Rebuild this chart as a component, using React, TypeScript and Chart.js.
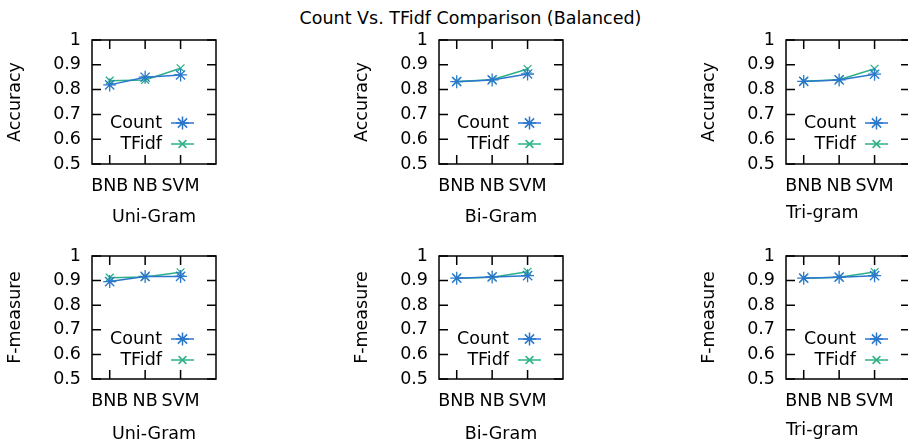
import React, { useEffect, useRef } from 'react';
import { Chart, registerables } from 'chart.js';
import { drawPoint } from 'chart.js/helpers';

Chart.register(...registerables);

// ---------- data ----------
const categories = ['BNB', 'NB', 'SVM'];
const seriesNames = ['Count', 'TFidf'];
const mainTitle = 'Count Vs. TFidf Comparison (Balanced)';

const uniAccCount = [0.819, 0.85, 0.859];
const uniAccTfidf = [0.836, 0.839, 0.886];
const biAccCount = [0.832, 0.839, 0.863];
const biAccTfidf = [0.833, 0.84, 0.883];
const triAccCount = [0.833, 0.839, 0.862];
const triAccTfidf = [0.834, 0.84, 0.884];

const uniF1Count = [0.896, 0.917, 0.917];
const uniF1Tfidf = [0.912, 0.915, 0.934];
const biF1Count = [0.91, 0.915, 0.92];
const biF1Tfidf = [0.91, 0.914, 0.936];
const triF1Count = [0.91, 0.914, 0.92];
const triF1Tfidf = [0.91, 0.914, 0.935];

const yLabels = ['Accuracy', 'F-measure'];
const xLabels = ['Uni-Gram', 'Bi-Gram', 'Tri-gram'];

// ---------- styles ----------
const FONT_FAMILY = "'DejaVu Sans', sans-serif";
const FONT_SIZE = 17.5;
const COLORS = ['#2b77cc', '#2bb088'];
const POINT_STYLES = ['star', 'crossRot'];
const POINT_RADII = [6.5, 5.5];

const COL_LEFT = [0, 347, 694];
const ROW_TOP = [0, 216];
const ROW_HEIGHT = [230, 232];
const BOX_TOP = [40, 40];
const BOX_BOTTOM = [164, 163];
const CANVAS_W = 226;
const BOX_LEFT = 92;
const BOX_RIGHT = 216;

const panels = [
  { row: 0, col: 0, count: uniAccCount, tfidf: uniAccTfidf },
  { row: 0, col: 1, count: biAccCount, tfidf: biAccTfidf },
  { row: 0, col: 2, count: triAccCount, tfidf: triAccTfidf },
  { row: 1, col: 0, count: uniF1Count, tfidf: uniF1Tfidf },
  { row: 1, col: 1, count: biF1Count, tfidf: biF1Tfidf },
  { row: 1, col: 2, count: triF1Count, tfidf: triF1Tfidf },
];

const framePlugin = {
  id: 'gnuFrame',
  beforeDatasetsDraw(chart: any) {
    const { ctx, chartArea } = chart;
    const { left, right, top, bottom } = chartArea;
    const x = chart.scales.x;
    const y = chart.scales.y;
    const tl = 9;
    ctx.save();
    ctx.strokeStyle = '#000';
    ctx.lineWidth = 1.5;
    ctx.strokeRect(left, top, right - left, bottom - top);
    ctx.beginPath();
    y.ticks.forEach((t: any) => {
      const py = y.getPixelForValue(t.value);
      ctx.moveTo(left, py);
      ctx.lineTo(left + tl, py);
      ctx.moveTo(right, py);
      ctx.lineTo(right - tl, py);
    });
    x.ticks.forEach((t: any) => {
      const px = x.getPixelForValue(t.value);
      ctx.moveTo(px, bottom);
      ctx.lineTo(px, bottom - tl);
      ctx.moveTo(px, top);
      ctx.lineTo(px, top + tl);
    });
    ctx.stroke();
    ctx.restore();
  },
};

const legendPlugin = {
  id: 'gnuLegend',
  afterDatasetsDraw(chart: any) {
    const { ctx, chartArea } = chart;
    const { right, top } = chartArea;
    ctx.save();
    chart.data.datasets.forEach((ds: any, i: number) => {
      const cy = top + 83 + i * 21;
      ctx.font = `${FONT_SIZE}px ${FONT_FAMILY}`;
      ctx.fillStyle = '#000';
      ctx.textAlign = 'right';
      ctx.textBaseline = 'middle';
      ctx.fillText(ds.label, right - 54, cy);
      ctx.strokeStyle = ds.borderColor;
      ctx.fillStyle = ds.borderColor;
      ctx.lineWidth = 1.5;
      ctx.beginPath();
      ctx.moveTo(right - 45, cy);
      ctx.lineTo(right - 22, cy);
      ctx.stroke();
      drawPoint(ctx, { pointStyle: ds.pointStyle, radius: ds.pointRadius, borderWidth: 1.3, rotation: 0 }, right - 33.5, cy);
    });
    ctx.restore();
  },
};

function Panel({ row, col, count, tfidf }: any) {
  const ref = useRef<HTMLCanvasElement | null>(null);
  useEffect(() => {
    if (!ref.current) return;
    const h = ROW_HEIGHT[row];
    const isTri = col === 2;
    const titlePadBottom = (row === 0 ? 2.4 : 3.4) + (isTri ? 4 : 0);
    const font = { family: FONT_FAMILY, size: FONT_SIZE };
    const values = [count, tfidf];
    const chart = new Chart(ref.current, {
      type: 'line',
      data: {
        datasets: seriesNames.map((name, i) => ({
          label: name,
          data: values[i].map((v: number, k: number) => ({ x: k, y: v })),
          borderColor: COLORS[i],
          backgroundColor: COLORS[i],
          borderWidth: 1.5,
          pointStyle: POINT_STYLES[i],
          pointRadius: POINT_RADII[i],
          pointBorderWidth: 1.3,
          pointBorderColor: COLORS[i],
          fill: false,
          tension: 0,
        })),
      },
      options: {
        responsive: false,
        animation: false,
        devicePixelRatio: 1,
        layout: {
          padding: { left: 0, top: BOX_TOP[row], right: CANVAS_W - BOX_RIGHT, bottom: 0 },
        },
        plugins: {
          legend: { display: false },
          tooltip: { enabled: false },
          title: { display: false },
        },
        scales: {
          x: {
            type: 'linear',
            min: -0.5,
            max: 3,
            afterBuildTicks: (s: any) => {
              s.ticks = categories.map((_, i) => ({ value: i }));
            },
            afterFit: (s: any) => {
              s.height = h - BOX_BOTTOM[row];
            },
            ticks: {
              callback: (v: any) => categories[v] ?? '',
              font,
              color: '#000',
              padding: 12,
              maxRotation: 0,
              autoSkip: false,
            },
            grid: { display: false, drawTicks: false },
            border: { display: false },
            title: {
              display: true,
              text: xLabels[col],
              font,
              color: '#000',
              align: isTri ? 'start' : 'center',
              padding: { top: 0, bottom: titlePadBottom },
            },
          },
          y: {
            type: 'linear',
            min: 0.5,
            max: 1,
            afterFit: (s: any) => {
              s.width = BOX_LEFT;
            },
            ticks: {
              stepSize: 0.1,
              callback: (v: any) => String(Math.round(Number(v) * 10) / 10),
              font,
              color: '#000',
              padding: 11,
            },
            grid: { display: false, drawTicks: false },
            border: { display: false },
            title: {
              display: true,
              text: yLabels[row],
              font,
              color: '#000',
              padding: { top: 5, bottom: 0 },
            },
          },
        },
      } as any,
      plugins: [framePlugin, legendPlugin],
    });
    return () => chart.destroy();
  }, [row, col, count, tfidf]);

  return (
    <canvas
      ref={ref}
      width={CANVAS_W}
      height={ROW_HEIGHT[row]}
      style={{
        position: 'absolute',
        left: COL_LEFT[col],
        top: ROW_TOP[row],
        width: CANVAS_W,
        height: ROW_HEIGHT[row],
      }}
    />
  );
}

export default function App() {
  return (
    <div
      style={{
        position: 'absolute',
        left: 0,
        top: 0,
        width: 908,
        height: 443,
        overflow: 'hidden',
        background: '#fff',
      }}
    >
      <div
        style={{
          position: 'absolute',
          left: 0,
          top: 7,
          width: 941,
          textAlign: 'center',
          fontFamily: FONT_FAMILY,
          fontSize: FONT_SIZE,
          lineHeight: '22px',
          color: '#000',
          whiteSpace: 'nowrap',
        }}
      >
        {mainTitle}
      </div>
      {panels.map((p, i) => (
        <Panel key={i} {...p} />
      ))}
    </div>
  );
}
